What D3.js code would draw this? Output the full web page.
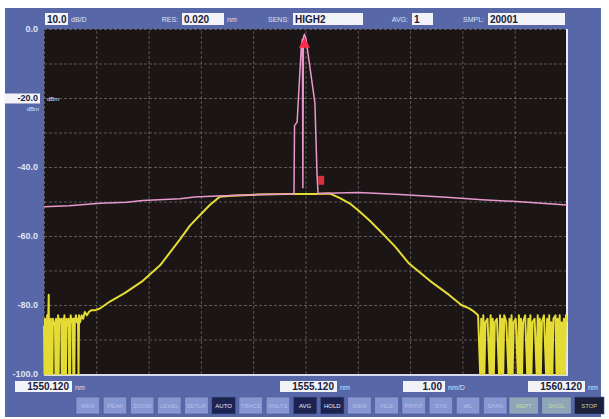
<!DOCTYPE html>
<html>
<head>
<meta charset="utf-8">
<script src="https://cdn.jsdelivr.net/npm/d3@7"></script>
<style>
  html, body { margin: 0; padding: 0; background: #fff; }
  svg { display: block; font-family: "Liberation Sans", "DejaVu Sans", sans-serif; }
</style>
</head>
<body>
<div id="chart"></div>
<script>
// header readouts
const headerLabels = ["", "RES:", "SENS:", "AVG:", "SMPL:"];
const headerValues = ["10.0", "0.020", "HIGH2", "1", "20001"];
const headerUnits = ["dB/D", "nm", "", "", ""];

// level axis (dBm)
const yTicks = [0, -20, -40, -60, -80, -100];
const yTickLabels = ["0.0", "-20.0", "-40.0", "-60.0", "-80.0", "-100.0"];
const refLevel = -20;

// wavelength axis (nm)
const wlStart = 1550.12;
const wlStop = 1560.12;
const startLabel = "1550.120";
const centerLabel = "1555.120";
const spanLabel = "1.00";
const stopLabel = "1560.120";

// soft keys along the bottom
const buttonLabels = ["MKR", "PEAK", "ZOOM", "LEVEL", "SETUP", "AUTO", "TRACE", "ANLYS",
  "AVG", "HOLD", "MEM", "FILE", "PRINT", "SYS", "WL", "SPAN"];
const activeButtons = ["AUTO", "AVG", "HOLD"];
const sweepLabels = ["REPT", "SNGL", "STOP"];

// trace A: laser line + ASE floor  [wavelength nm, level dBm]
const traceA = [
  [1550.12, -51.5], [1550.60, -51.2], [1551.19, -50.5], [1551.70, -50.2], [1552.01, -49.7],
  [1552.72, -49.2], [1553.00, -48.7], [1553.43, -48.4], [1554.25, -48.0], [1554.88, -47.8],
  [1554.90, -47.8], [1554.91, -28], [1554.96, -27], [1555.04, -5], [1555.06, -3],
  [1555.07, -46], [1555.08, -2.5], [1555.10, -1.5], [1555.13, -3], [1555.30, -21.5],
  [1555.34, -42], [1555.36, -47.7], [1555.50, -47.6], [1556.14, -47.4], [1556.93, -48.0],
  [1557.81, -48.8], [1558.50, -49.5], [1559.15, -50.0], [1560.12, -51.0]
];

// trace B: filtered spectrum  [wavelength nm, level dBm]
const traceB = [
  [1550.12, -86], [1550.13, -100], [1550.14, -84], [1550.15, -100], [1550.16, -85],
  [1550.17, -100], [1550.18, -83], [1550.19, -100], [1550.20, -84], [1550.21, -77],
  [1550.22, -100], [1550.23, -85], [1550.24, -100], [1550.25, -84], [1550.26, -100],
  [1550.27, -86], [1550.28, -100], [1550.29, -84], [1550.31, -85], [1550.33, -86],
  [1550.34, -100], [1550.35, -84], [1550.36, -100], [1550.37, -85], [1550.38, -100],
  [1550.39, -83], [1550.40, -100], [1550.41, -84], [1550.43, -85], [1550.45, -84],
  [1550.46, -100], [1550.47, -85], [1550.48, -100], [1550.49, -84], [1550.50, -100],
  [1550.51, -83], [1550.52, -100], [1550.53, -85], [1550.54, -100], [1550.55, -84],
  [1550.57, -86], [1550.59, -84], [1550.60, -100], [1550.61, -85], [1550.62, -100],
  [1550.63, -83], [1550.65, -85], [1550.67, -84], [1550.68, -100], [1550.69, -84],
  [1550.70, -100], [1550.71, -85], [1550.73, -83], [1550.75, -85], [1550.77, -84],
  [1550.78, -100], [1550.79, -83], [1550.81, -85], [1550.84, -83], [1550.87, -84],
  [1550.90, -82], [1550.94, -83], [1550.98, -82], [1551.03, -81.5], [1551.10, -81.5],
  [1551.19, -81], [1551.38, -79], [1551.67, -76.5], [1552.01, -73], [1552.34, -68.5],
  [1552.72, -61], [1552.91, -57], [1553.10, -54], [1553.29, -51], [1553.48, -48.6],
  [1553.70, -48.3], [1554.20, -48.0], [1554.80, -47.8], [1555.30, -47.8], [1555.59, -47.7],
  [1555.78, -49.0], [1555.97, -50.6], [1556.16, -53], [1556.35, -55.6], [1556.54, -58.5],
  [1556.83, -63], [1557.10, -68], [1557.50, -73], [1557.86, -77], [1558.10, -80],
  [1558.25, -81], [1558.35, -82], [1558.42, -83], [1558.46, -100], [1558.48, -84],
  [1558.50, -100], [1558.52, -83], [1558.54, -100], [1558.56, -85], [1558.60, -84],
  [1558.64, -100], [1558.66, -83], [1558.68, -100], [1558.70, -84], [1558.72, -100],
  [1558.74, -85], [1558.78, -84], [1558.82, -100], [1558.84, -83], [1558.86, -100],
  [1558.88, -84], [1558.90, -100], [1558.92, -83], [1558.96, -85], [1559.00, -100],
  [1559.02, -84], [1559.04, -100], [1559.06, -83], [1559.08, -100], [1559.10, -85],
  [1559.14, -84], [1559.18, -100], [1559.20, -83], [1559.22, -100], [1559.24, -84],
  [1559.26, -100], [1559.28, -85], [1559.32, -83], [1559.36, -100], [1559.38, -84],
  [1559.40, -100], [1559.42, -83], [1559.44, -100], [1559.46, -85], [1559.50, -84],
  [1559.54, -100], [1559.56, -83], [1559.58, -100], [1559.60, -84], [1559.62, -100],
  [1559.64, -85], [1559.68, -83], [1559.72, -100], [1559.74, -84], [1559.76, -100],
  [1559.78, -83], [1559.80, -100], [1559.82, -85], [1559.84, -100], [1559.86, -84],
  [1559.90, -83], [1559.92, -100], [1559.94, -84], [1559.96, -100], [1559.98, -83],
  [1560.00, -100], [1560.02, -85], [1560.04, -100], [1560.06, -84], [1560.08, -100],
  [1560.10, -83], [1560.12, -85]
];

// markers [wavelength nm, level dBm]
const peakMarker = [1555.10, -4.5];
const subMarker = [1555.42, -44];

const W = 609, H = 419;
const plot = { left: 44, right: 567, top: 29, bottom: 374 };
const blue = "#5767a7";
const textLight = "#dfe3f5";

const svg = d3.select("#chart").append("svg")
  .attr("width", W).attr("height", H)
  .attr("viewBox", [0, 0, W, H]);

svg.append("rect").attr("width", W).attr("height", H).attr("fill", "#fff");
svg.append("rect").attr("x", 5).attr("y", 8).attr("width", 596).attr("height", 409).attr("fill", blue);

const x = d3.scaleLinear().domain([wlStart, wlStop]).range([plot.left, plot.right]);
const y = d3.scaleLinear().domain([-100, 0]).range([plot.bottom, plot.top]);

// screen
svg.append("rect")
  .attr("x", plot.left).attr("y", plot.top)
  .attr("width", plot.right - plot.left).attr("height", plot.bottom - plot.top)
  .attr("fill", "#1b1515");

// grid
const xDivs = d3.range(11).map(i => wlStart + i * (wlStop - wlStart) / 10);
const yDivs = d3.range(11).map(i => -i * 10);
svg.append("g")
  .attr("transform", `translate(0,${plot.bottom})`)
  .call(d3.axisBottom(x).tickValues(xDivs).tickSize(-(plot.bottom - plot.top)).tickFormat(""))
  .call(g => g.select(".domain").remove())
  .call(g => g.selectAll("line").attr("stroke", "#9a9a9a").attr("stroke-opacity", 0.5).attr("stroke-dasharray", "3,2"));
svg.append("g")
  .attr("transform", `translate(${plot.left},0)`)
  .call(d3.axisLeft(y).tickValues(yDivs).tickSize(-(plot.right - plot.left)).tickFormat(""))
  .call(g => g.select(".domain").remove())
  .call(g => g.selectAll("line").attr("stroke", "#9a9a9a").attr("stroke-opacity", 0.5).attr("stroke-dasharray", "3,2"));

// frame edges
svg.append("line").attr("x1", plot.right).attr("x2", plot.right).attr("y1", plot.top).attr("y2", plot.bottom + 1)
  .attr("stroke", "#e4e8f8").attr("stroke-width", 2);
svg.append("line").attr("x1", plot.left).attr("x2", plot.right + 1).attr("y1", plot.bottom + 1).attr("y2", plot.bottom + 1)
  .attr("stroke", "#d6dbf0").attr("stroke-width", 2);

// traces
const line = d3.line().x(d => x(d[0])).y(d => y(d[1]));
svg.append("path").datum(traceB)
  .attr("fill", "none").attr("stroke", "#e4dc34").attr("stroke-width", 2)
  .attr("stroke-linejoin", "round").attr("d", line);
svg.append("path").datum(traceA)
  .attr("fill", "none").attr("stroke", "#e898cc").attr("stroke-width", 1.5)
  .attr("stroke-linejoin", "round").attr("d", line);

// markers
svg.append("path")
  .attr("transform", `translate(${x(peakMarker[0])},${y(peakMarker[1])})`)
  .attr("d", d3.symbol(d3.symbolTriangle, 55)())
  .attr("fill", "#ff2a4a");
svg.append("rect")
  .attr("x", x(subMarker[0]) - 3).attr("y", y(subMarker[1]) - 5)
  .attr("width", 6).attr("height", 9)
  .attr("fill", "#d8303c");

// level labels
const yAxisG = svg.append("g")
  .attr("transform", `translate(${plot.left - 3},0)`)
  .call(d3.axisLeft(y).tickValues(yTicks).tickSize(0).tickFormat((d, i) => yTickLabels[i]))
  .call(g => g.select(".domain").remove());
yAxisG.selectAll("text")
  .attr("fill", d => d === refLevel ? "#1a1a40" : textLight)
  .attr("font-size", 9).attr("font-weight", "bold")
  .attr("font-family", "Liberation Sans, sans-serif");
yAxisG.selectAll(".tick").filter(d => d === refLevel)
  .insert("rect", "text")
  .attr("x", -37).attr("y", -5).attr("width", 36).attr("height", 10).attr("fill", "#f4f4f8");
svg.append("text").attr("x", plot.left + 3).attr("y", y(refLevel) + 3)
  .attr("fill", textLight).attr("font-size", 6).text("dBm");
svg.append("text").attr("x", plot.left - 5).attr("y", y(refLevel) + 13).attr("text-anchor", "end")
  .attr("fill", textLight).attr("font-size", 6).text("dBm");

// header row
const headerLayout = [[45, 23], [182, 42], [293, 70], [412, 21], [488, 77]];
const header = svg.append("g").selectAll("g").data(headerValues).join("g");
header.append("rect")
  .attr("x", (d, i) => headerLayout[i][0]).attr("y", 13)
  .attr("width", (d, i) => headerLayout[i][1]).attr("height", 12)
  .attr("fill", "#f2f3f8");
header.append("text")
  .attr("x", (d, i) => headerLayout[i][0] + 2).attr("y", 22.5)
  .attr("fill", "#1a1a3a").attr("font-size", 10).attr("font-weight", "bold")
  .text(d => d);
header.append("text")
  .attr("x", (d, i) => headerLayout[i][0] - 4).attr("y", 22)
  .attr("text-anchor", "end").attr("fill", textLight).attr("font-size", 7)
  .text((d, i) => headerLabels[i]);
header.append("text")
  .attr("x", (d, i) => headerLayout[i][0] + headerLayout[i][1] + 3).attr("y", 22)
  .attr("fill", textLight).attr("font-size", 7)
  .text((d, i) => headerUnits[i]);

// bottom readouts
const bottomValues = [startLabel, centerLabel, spanLabel, stopLabel];
const bottomUnits = ["nm", "nm", "nm/D", "nm"];
const bottomLayout = [[15, 57], [280, 57], [403, 42], [528, 57]];
const bottom = svg.append("g").selectAll("g").data(bottomValues).join("g");
bottom.append("rect")
  .attr("x", (d, i) => bottomLayout[i][0]).attr("y", 381)
  .attr("width", (d, i) => bottomLayout[i][1]).attr("height", 11)
  .attr("fill", "#f2f3f8");
bottom.append("text")
  .attr("x", (d, i) => bottomLayout[i][0] + bottomLayout[i][1] - 3).attr("y", 390)
  .attr("text-anchor", "end").attr("fill", "#1a1a3a").attr("font-size", 10).attr("font-weight", "bold")
  .text(d => d);
bottom.append("text")
  .attr("x", (d, i) => bottomLayout[i][0] + bottomLayout[i][1] + 3).attr("y", 390)
  .attr("fill", textLight).attr("font-size", 7)
  .text((d, i) => bottomUnits[i]);

// soft keys
const bx = d3.scaleBand().domain(buttonLabels).range([76, 507]).paddingInner(0.13);
const keys = svg.append("g").selectAll("g").data(buttonLabels).join("g")
  .attr("transform", d => `translate(${bx(d)},397)`);
keys.append("rect")
  .attr("width", bx.bandwidth()).attr("height", 17)
  .attr("fill", d => activeButtons.includes(d) ? "#1d2350" : "#8797d2")
  .attr("stroke", "#4c5a98").attr("stroke-width", 0.6);
keys.append("text")
  .attr("x", bx.bandwidth() / 2).attr("y", 11).attr("text-anchor", "middle")
  .attr("font-size", 6).attr("fill", d => activeButtons.includes(d) ? "#eef" : "#b4c0ea")
  .text(d => d);

const sx = d3.scaleBand().domain(sweepLabels).range([509, 604]).paddingInner(0.1);
const sweep = svg.append("g").selectAll("g").data(sweepLabels).join("g")
  .attr("transform", d => `translate(${sx(d)},397)`);
sweep.append("rect")
  .attr("width", sx.bandwidth()).attr("height", 17)
  .attr("fill", d => d === "STOP" ? "#1b1f3a" : "#8fa6b8")
  .attr("stroke", "#4c5a98").attr("stroke-width", 0.6);
sweep.append("text")
  .attr("x", sx.bandwidth() / 2).attr("y", 11).attr("text-anchor", "middle")
  .attr("font-size", 6).attr("fill", d => d === "STOP" ? "#d8c890" : "#c8d8a0")
  .text(d => d);
</script>
</body>
</html>
